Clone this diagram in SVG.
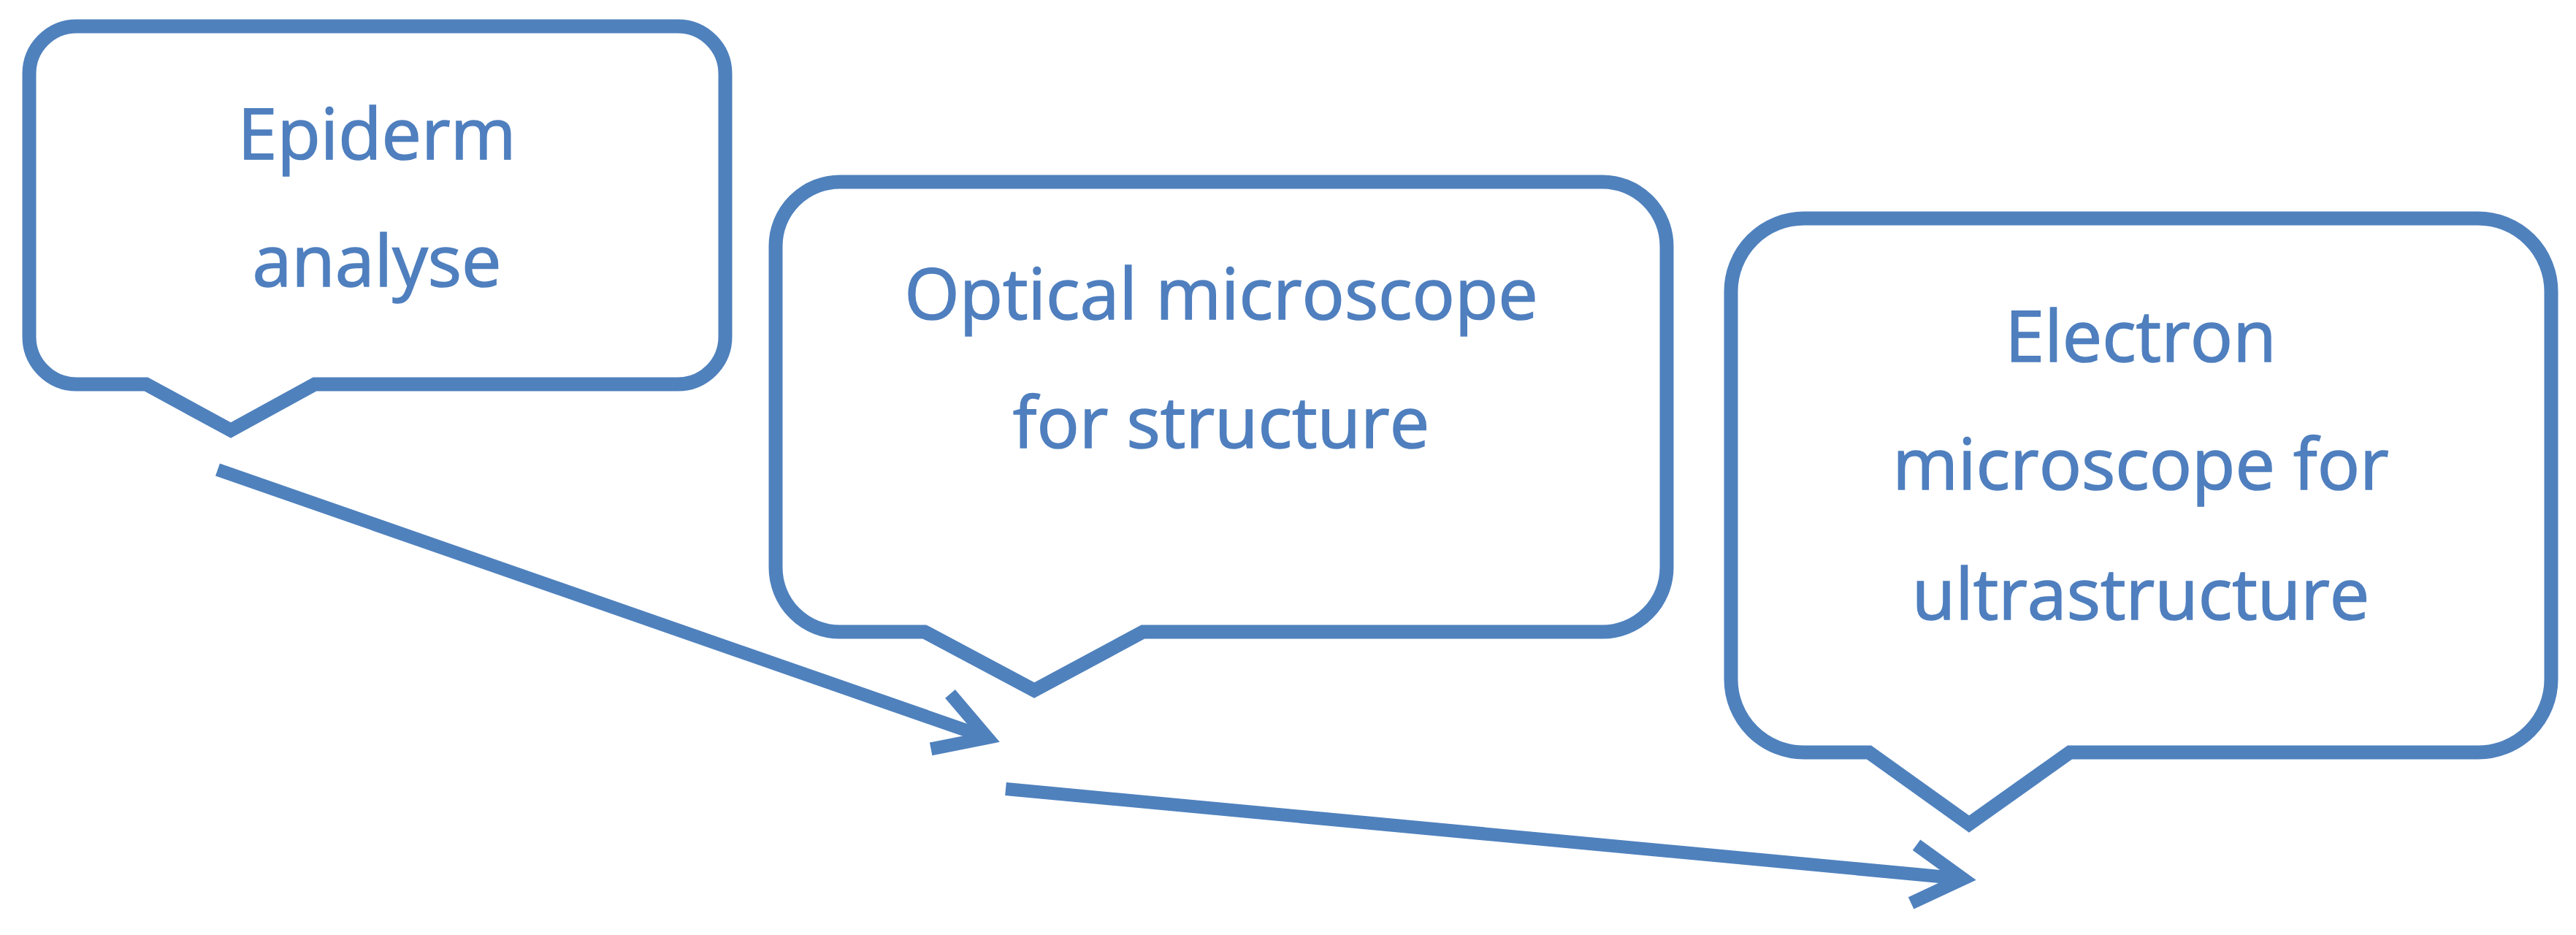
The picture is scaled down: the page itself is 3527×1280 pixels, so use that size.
<svg xmlns="http://www.w3.org/2000/svg" width="3527" height="1280" viewBox="0 0 3527 1280">
<style>
.bubble{fill:#ffffff;stroke:#4f81bd;stroke-width:19;stroke-linejoin:miter}
.label{font-family:"Open Sans","Liberation Sans",sans-serif;font-size:97px;fill:#4f7fbe;stroke:#4f7fbe;stroke-width:1.6;text-anchor:middle}
.conn{fill:none;stroke:#4f81bd;stroke-width:18}
</style>
<defs>
<marker id="chev" markerUnits="userSpaceOnUse" viewBox="-100 -70 120 140" refX="0" refY="0" markerWidth="120" markerHeight="140" orient="auto">
<path d="M-68,-40 L0,0 L-68,40" fill="none" stroke="#4f81bd" stroke-width="18" stroke-linejoin="miter"/>
</marker>
</defs>
<rect width="3527" height="1280" fill="#ffffff"/>
<g id="node-epiderm">
<path class="bubble" d="M105,36 H928 A65,65 0 0 1 993,101 V461 A65,65 0 0 1 928,526 H431 L316,589 L200,526 H105 A65,65 0 0 1 40,461 V101 A65,65 0 0 1 105,36 Z"/>
<text class="label" x="516" y="218">Epiderm</text>
<text class="label" x="516" y="392">analyse</text>
</g>
<g id="node-optical">
<path class="bubble" d="M1150,249 H2194 A88,88 0 0 1 2282,337 V777 A88,88 0 0 1 2194,865 H1565 L1416,945 L1266,865 H1150 A88,88 0 0 1 1062,777 V337 A88,88 0 0 1 1150,249 Z"/>
<text class="label" x="1672" y="437">Optical microscope</text>
<text class="label" x="1672" y="613">for structure</text>
</g>
<g id="node-electron">
<path class="bubble" d="M2470,299 H3393 A100,100 0 0 1 3493,399 V930 A100,100 0 0 1 3393,1030 H2834 L2696,1128 L2559,1030 H2470 A100,100 0 0 1 2370,930 V399 A100,100 0 0 1 2470,299 Z"/>
<text class="label" x="2931" y="495">Electron</text>
<text class="label" x="2931" y="670">microscope for</text>
<text class="label" x="2931" y="848">ultrastructure</text>
</g>
<g id="connectors">
<line class="conn" x1="298" y1="643" x2="1352" y2="1010" marker-end="url(#chev)"/>
<line class="conn" x1="1377" y1="1080" x2="2688" y2="1203" marker-end="url(#chev)"/>
</g>
</svg>
